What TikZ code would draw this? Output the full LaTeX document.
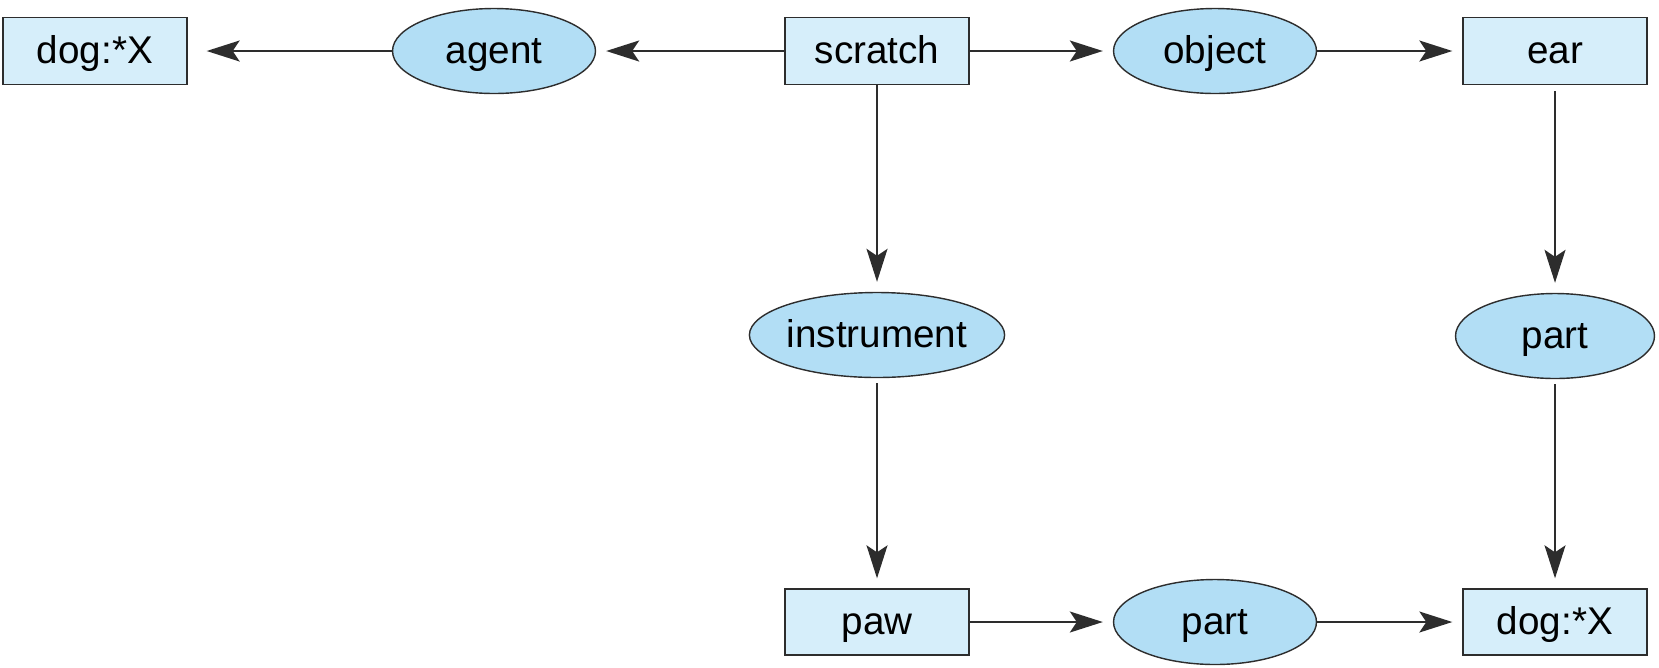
\documentclass[tikz,border=0pt]{standalone}
\usepackage{fontspec}
\setmainfont{Liberation Sans}
\usetikzlibrary{shapes.geometric,arrows.meta}
\definecolor{boxblue}{RGB}{214,238,250}
\definecolor{ovalblue}{RGB}{178,222,245}
\definecolor{edgegray}{RGB}{45,45,45}
\begin{document}
\begin{tikzpicture}[x=0.02cm, y=-0.02cm, font=\fontsize{22}{26}\selectfont,
    concept/.style={draw=edgegray, line width=0.8pt, fill=boxblue, minimum width=3.68cm, minimum height=1.34cm, inner sep=0pt, text height=17.4pt, text depth=3pt},
    relation/.style={ellipse, draw=edgegray, line width=0.8pt, fill=ovalblue, minimum width=4.06cm, minimum height=1.7cm, inner sep=0pt, text height=17.4pt, text depth=3pt},
    link/.style={draw=edgegray, line width=1.1pt, -{Stealth[length=0.66cm, width=0.42cm, inset=0.14cm]}, shorten >=0.2cm}]
    \useasboundingbox (0,0) rectangle (1659,667);
    \node [concept] (dogA) at (95,51) {dog:*X};
    \node [relation] (agent) at (494,51) {agent};
    \node [concept] (scratch) at (877,51) {scratch};
    \node [relation] (object) at (1215,51) {object};
    \node [concept] (ear) at (1555,51) {ear};
    \node [relation, minimum width=4.52cm] (instrument) at (877,335) {instrument};
    \node [relation, minimum width=3.98cm] (partR) at (1555,336) {part};
    \node [concept, minimum height=1.32cm] (paw) at (877,622) {paw};
    \node [relation] (partB) at (1215,622) {part};
    \node [concept, minimum height=1.32cm] (dogB) at (1555,622) {dog:*X};
    \draw [link, shorten >=0.38cm] (agent) -- (dogA);
    \draw [link] (scratch) -- (agent);
    \draw [link] (scratch) -- (object);
    \draw [link] (object) -- (ear);
    \draw [link] (scratch) -- (instrument);
    \draw [link, shorten <=0.1cm] (instrument) -- (paw);
    \draw [link, shorten <=0.12cm] (ear) -- (partR);
    \draw [link, shorten <=0.1cm] (partR) -- (dogB);
    \draw [link] (paw) -- (partB);
    \draw [link] (partB) -- (dogB);
\end{tikzpicture}
\end{document}
